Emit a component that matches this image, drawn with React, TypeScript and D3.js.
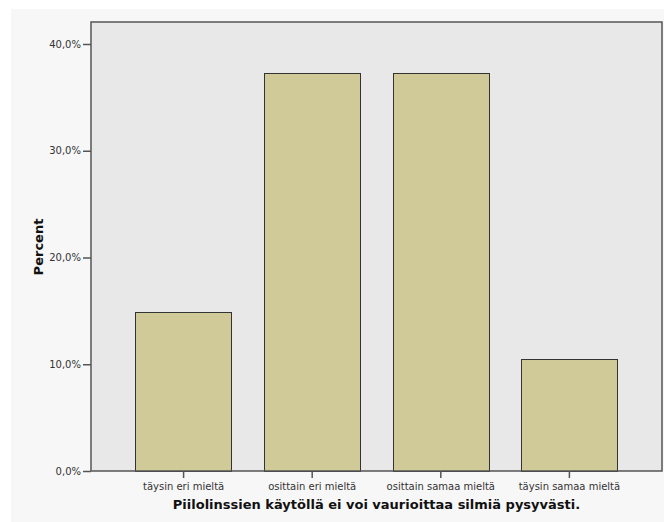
import React, { useEffect, useRef } from 'react';
import * as d3 from 'd3';

const categories = ['täysin eri mieltä', 'osittain eri mieltä', 'osittain samaa mieltä', 'täysin samaa mieltä'];
const percents = [14.925, 37.313, 37.313, 10.448];
const yTicks = [0, 10, 20, 30, 40];

const width = 664;
const height = 522;
const plot = { left: 91, top: 22, right: 662, bottom: 471 };

const App = () => {
    const container = useRef<SVGSVGElement>(null);

    useEffect(() => {
        if (!container.current) return;
        const svg = d3.select(container.current);
        svg.selectAll('*').remove();

        // outer panel
        svg.append('rect')
            .attr('x', 11).attr('y', 9)
            .attr('width', width - 11).attr('height', height - 9)
            .attr('fill', '#f7f7f7');

        // plot background
        svg.append('rect')
            .attr('x', plot.left).attr('y', plot.top)
            .attr('width', plot.right - plot.left).attr('height', plot.bottom - plot.top)
            .attr('fill', '#e8e8e8');

        const x = d3.scaleBand<string>()
            .domain(categories)
            .range([plot.left, plot.right])
            .paddingInner(0.25)
            .paddingOuter(0.345);

        const y = d3.scaleLinear()
            .domain([0, 40])
            .range([plot.bottom, 44]);

        svg.append('g')
            .selectAll('rect')
            .data(categories)
            .join('rect')
            .attr('x', d => Math.round(x(d)!) + 0.5)
            .attr('y', (d, i) => Math.round(y(percents[i])) + 0.5)
            .attr('width', Math.round(x.bandwidth()))
            .attr('height', (d, i) => Math.round(plot.bottom - y(percents[i])))
            .attr('fill', '#cfca98')
            .attr('stroke', '#333')
            .attr('stroke-width', 1);

        // plot frame
        svg.append('rect')
            .attr('x', plot.left).attr('y', plot.top)
            .attr('width', plot.right - plot.left).attr('height', plot.bottom - plot.top)
            .attr('fill', 'none')
            .attr('stroke', '#555')
            .attr('stroke-width', 1.5);

        const yAxis = d3.axisLeft(y)
            .tickValues(yTicks)
            .tickSize(8)
            .tickPadding(2)
            .tickFormat(d => `${(+d).toFixed(1).replace('.', ',')}%`);

        const yg = svg.append('g')
            .attr('transform', `translate(${plot.left},0)`)
            .call(yAxis);
        yg.select('.domain').remove();
        yg.selectAll('line').attr('stroke', '#555').attr('stroke-width', 1.5);
        yg.selectAll('text')
            .attr('fill', '#333')
            .style('font-family', 'DejaVu Sans, sans-serif')
            .style('font-size', '10px');

        const xAxis = d3.axisBottom(x).tickSize(7).tickPadding(5);
        const xg = svg.append('g')
            .attr('transform', `translate(0,${plot.bottom})`)
            .call(xAxis);
        xg.select('.domain').remove();
        xg.selectAll('line').attr('stroke', '#555').attr('stroke-width', 1.5);
        xg.selectAll('text')
            .attr('fill', '#333')
            .style('font-family', 'DejaVu Sans, sans-serif')
            .style('font-size', '10px');

        svg.append('text')
            .attr('x', (plot.left + plot.right) / 2)
            .attr('y', 509)
            .attr('text-anchor', 'middle')
            .style('font-family', 'DejaVu Sans, sans-serif')
            .style('font-size', '13px')
            .style('font-weight', 'bold')
            .attr('fill', '#111')
            .text('Piilolinssien käytöllä ei voi vaurioittaa silmiä pysyvästi.');

        svg.append('text')
            .attr('transform', `translate(43,247) rotate(-90)`)
            .attr('text-anchor', 'middle')
            .style('font-family', 'DejaVu Sans, sans-serif')
            .style('font-size', '13px')
            .style('font-weight', 'bold')
            .attr('fill', '#111')
            .text('Percent');
    }, []);

    return (
        <svg
            ref={container}
            width={width}
            height={height}
            style={{ position: 'absolute', left: 0, top: 0, background: '#fff' }}
        />
    );
};

export default App;
